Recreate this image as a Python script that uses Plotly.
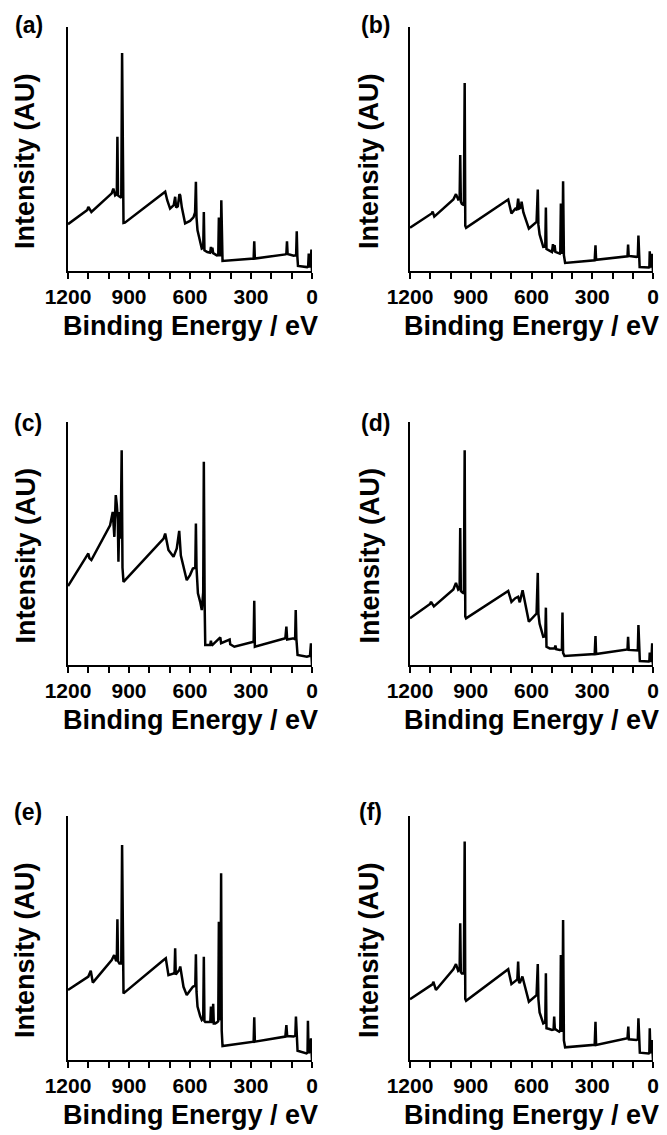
import plotly.graph_objects as go

W, H = 667, 1135

# ---- data (binding energy in eV, intensity in arbitrary units 0-100) ----
energy_a = [1200, 1105, 1100, 1085, 985, 977, 968, 960, 957, 954, 947, 938, 934, 930, 927, 920,
            730, 722, 712, 698, 680, 673, 668, 660, 652, 648, 640, 632, 624, 600, 583, 575, 571, 568, 563,
            550, 542, 535, 532, 529, 515, 501, 497, 494, 490, 486, 468, 461, 458, 455, 449, 446, 443, 440,
            287, 284, 281, 131, 126, 123, 120, 90, 78, 75, 72, 69, 24, 19, 16, 13, 6, 3, 1, 0]
intensity_a = [19.2, 25.0, 26.3, 24.2, 31.8, 33.8, 31.0, 31.5, 55.0, 31.0, 30.5, 30.0, 89.3, 20.0, 19.7, 19.8,
               31.8, 32.5, 29.0, 25.6, 27.0, 30.4, 26.0, 26.5, 31.5, 31.0, 26.0, 22.6, 19.5, 20.5, 22.0, 24.0, 36.6, 22.0, 16.7,
               12.0, 9.2, 9.5, 24.2, 8.5, 7.8, 7.5, 9.9, 7.5, 9.6, 7.3, 6.4, 6.5, 21.9, 6.5, 6.5, 29.0, 6.0, 4.1,
               5.1, 12.2, 5.1, 6.8, 7.2, 12.2, 7.0, 6.3, 6.5, 16.3, 6.0, 2.1, 1.6, 1.8, 7.1, 1.5, 3.0, 8.8, 2.0, 0.0]

energy_b = [1200, 1093, 1088, 1080, 986, 973, 962, 955, 952, 949, 944, 934, 930, 927, 923,
            723, 715, 699, 680, 672, 666, 660, 652, 649, 640, 613, 580, 575, 569, 566, 560,
            542, 532, 529, 526, 512, 499, 494, 491, 486, 482, 460, 458, 455, 452, 447, 444, 440, 434,
            288, 284, 281, 126, 123, 120, 82, 75, 72, 69, 66, 21, 18, 16, 13, 8, 4, 2, 0]
intensity_b = [17.7, 23.6, 24.3, 22.3, 29.3, 31.5, 29.3, 29.5, 47.5, 28.5, 27.5, 27.0, 77.0, 18.5, 17.7,
               29.0, 29.3, 23.6, 25.5, 25.0, 29.7, 25.6, 26.0, 28.4, 24.0, 17.4, 19.5, 20.1, 33.4, 19.0, 15.0,
               9.9, 10.0, 26.0, 9.0, 8.5, 7.8, 11.0, 8.0, 10.6, 7.8, 7.1, 7.5, 27.7, 7.5, 7.5, 36.8, 6.5, 3.3,
               4.4, 10.5, 4.6, 6.0, 10.8, 6.2, 5.8, 6.0, 14.5, 5.0, 1.6, 1.4, 1.5, 8.1, 1.5, 2.5, 7.1, 2.0, 0.0]

energy_c = [1200, 1100, 1095, 1085, 993, 980, 972, 965, 960, 955, 952, 947, 941, 936, 932, 927,
            730, 722, 706, 681, 665, 653, 645, 616, 600, 586, 574, 571, 568, 561, 550, 542, 535, 532, 528, 525,
            501, 497, 493, 455, 451, 447, 408, 405, 402, 382,
            287, 284, 281, 131, 126, 122, 90, 83, 80, 77, 71, 25, 10, 5, 2, 0]
intensity_c = [32.5, 45.9, 44.0, 43.2, 57.5, 63.0, 52.7, 69.9, 66.0, 60.0, 42.5, 63.0, 52.0, 88.4, 40.0, 34.2,
               52.0, 54.1, 47.3, 44.5, 48.0, 55.2, 45.0, 34.9, 37.0, 39.7, 40.0, 58.2, 40.0, 29.5, 26.0, 22.6, 30.0, 83.6, 25.0, 8.2,
               8.2, 10.0, 8.0, 11.0, 11.4, 9.0, 10.2, 10.5, 8.5, 7.5,
               9.6, 26.4, 7.5, 11.0, 15.8, 10.5, 11.0, 10.5, 22.6, 11.0, 4.1, 3.4, 3.8, 8.9, 3.0, 0.0]

energy_d = [1200, 1101, 1096, 1082, 986, 973, 962, 955, 952, 949, 944, 934, 930, 927, 923,
            723, 715, 699, 680, 666, 658, 644, 632, 613, 575, 569, 566, 560,
            542, 532, 529, 526, 510, 486, 482, 478, 460, 450, 447, 444, 437,
            288, 284, 281, 126, 123, 120, 82, 75, 72, 69, 65, 21, 18, 16, 13, 8, 4, 2, 0]
intensity_d = [19.2, 25.1, 26.0, 24.1, 31.1, 33.8, 31.0, 31.5, 56.4, 30.5, 30.0, 29.5, 88.4, 20.0, 19.2,
               30.1, 30.5, 26.0, 27.5, 28.1, 25.8, 30.8, 26.0, 17.8, 21.2, 37.9, 21.0, 17.0,
               11.6, 11.8, 23.6, 7.5, 6.8, 6.8, 8.0, 6.5, 6.2, 6.3, 21.6, 5.0, 3.7,
               4.5, 11.9, 4.5, 6.4, 11.6, 6.2, 5.9, 6.0, 16.4, 4.0, 1.6, 1.4, 1.5, 5.1, 1.5, 2.0, 8.9, 2.0, 0.0]

energy_e = [1200, 1100, 1088, 1078, 985, 973, 963, 960, 957, 954, 947, 938, 934, 930, 927,
            730, 719, 706, 680, 676, 673, 670, 665, 652, 648, 632, 616, 600, 586, 574, 571, 568, 563,
            550, 542, 535, 532, 529, 525, 504, 500, 497, 494, 489, 486, 483, 476, 465, 461, 458, 455, 450, 447, 444, 440,
            287, 284, 281, 131, 126, 122, 90, 82, 79, 76, 71, 27, 22, 20, 17, 10, 5, 2, 0]
intensity_e = [28.7, 34.2, 36.6, 31.7, 41.0, 43.0, 40.5, 41.0, 57.7, 40.5, 39.5, 39.5, 88.1, 29.0, 27.3,
               41.0, 41.7, 34.8, 35.5, 36.0, 45.8, 35.0, 35.5, 37.0, 38.3, 30.0, 26.6, 28.5, 30.0, 30.5, 43.3, 28.0, 21.9,
               18.0, 16.4, 17.0, 42.3, 16.0, 15.6, 15.6, 15.8, 21.9, 15.6, 15.6, 23.0, 15.0, 15.0, 15.6, 16.0, 56.7, 16.5, 17.0, 76.5, 12.0, 5.7,
               7.5, 17.5, 7.5, 9.6, 14.3, 9.8, 9.6, 10.0, 17.8, 10.0, 3.8, 2.7, 3.0, 16.1, 3.0, 3.4, 8.9, 3.0, 0.0]

energy_f = [1200, 1088, 1085, 1072, 986, 973, 962, 955, 952, 949, 944, 934, 930, 927, 923,
            723, 715, 699, 680, 670, 666, 662, 658, 645, 632, 613, 575, 569, 566, 560,
            542, 532, 529, 526, 512, 499, 491, 488, 485, 480, 463, 458, 455, 452, 447, 444, 440, 434,
            288, 284, 281, 126, 122, 119, 82, 75, 72, 69, 65, 21, 18, 16, 13, 8, 4, 2, 0]
intensity_f = [24.9, 31.1, 32.1, 28.7, 37.2, 39.3, 36.5, 37.0, 56.0, 36.0, 35.5, 35.5, 89.5, 25.0, 24.3,
               36.9, 37.2, 31.1, 32.5, 33.0, 40.3, 32.0, 31.5, 34.2, 30.0, 23.9, 26.6, 39.3, 25.0, 19.5,
               15.0, 15.5, 35.5, 13.0, 12.7, 12.3, 12.5, 17.8, 13.0, 12.5, 11.6, 12.0, 43.0, 12.0, 12.0, 57.4, 8.0, 5.2,
               6.2, 15.7, 6.2, 8.9, 13.7, 8.5, 8.2, 8.5, 17.1, 6.0, 3.0, 2.7, 2.9, 13.0, 3.0, 3.5, 8.2, 3.0, 0.0]

panel_labels = ["(a)", "(b)", "(c)", "(d)", "(e)", "(f)"]
tick_values = [1200, 900, 600, 300, 0]
tick_labels = ["1200", "900", "600", "300", "0"]
x_title = "Binding Energy / eV"
y_title = "Intensity (AU)"

series = [(energy_a, intensity_a), (energy_b, intensity_b), (energy_c, intensity_c),
          (energy_d, intensity_d), (energy_e, intensity_e), (energy_f, intensity_f)]

# ---- layout geometry (pixels) ----
cols = [(68, 312), (410, 653)]
rows = [(27, 271), (422, 665), (816, 1060)]
label_pos = [(29, 25), (375, 25), (28, 423), (375, 423), (28, 812), (370, 812)]
ytitle_x = [25, 369]
ytitle_dy = 12
xtitle_dy = 55

FONT = "Liberation Sans, Arial, sans-serif"

def px_x(p):
    return p / W

def px_y(p):
    return 1 - p / H

fig = go.Figure()
layout = dict(width=W, height=H, margin=dict(l=0, r=0, t=0, b=0, autoexpand=False),
              paper_bgcolor="white", plot_bgcolor="white", showlegend=False, template="none")
annotations = []

for i, (e, v) in enumerate(series):
    r, c = divmod(i, 2)
    n = "" if i == 0 else str(i + 1)
    fig.add_trace(go.Scatter(x=e, y=v, mode="lines", xaxis="x" + n, yaxis="y" + n,
                             line=dict(color="black", width=2.5), hoverinfo="skip"))
    x0, x1 = cols[c]
    y0, y1 = rows[r]
    layout["xaxis" + n] = dict(
        domain=[px_x(x0), px_x(x1)], anchor="y" + n, range=[1200, 0], automargin=False,
        showline=True, linecolor="black", linewidth=2, mirror=False,
        ticks="outside", ticklen=6, tickwidth=2, tickcolor="black",
        tickvals=tick_values, ticktext=tick_labels,
        tickfont=dict(family=FONT, size=21, color="black", weight="bold"),
        minor=dict(dtick=100, tick0=0, ticks="outside", ticklen=6, tickwidth=2, tickcolor="black", showgrid=False),
        showgrid=False, zeroline=False, fixedrange=True)
    layout["yaxis" + n] = dict(
        domain=[px_y(y1), px_y(y0)], anchor="x" + n, range=[0, 100], automargin=False,
        showline=True, linecolor="black", linewidth=2,
        ticks="", showticklabels=False, showgrid=False, zeroline=False, fixedrange=True)
    lx, ly = label_pos[i]
    annotations.append(dict(text=panel_labels[i], x=px_x(lx), y=px_y(ly), xref="paper", yref="paper",
                            showarrow=False, xanchor="center", yanchor="middle",
                            font=dict(family=FONT, size=23, color="black", weight="bold")))
    annotations.append(dict(text=x_title, x=px_x((x0 + x1) / 2), y=px_y(y1 + xtitle_dy),
                            xref="paper", yref="paper", showarrow=False,
                            xanchor="center", yanchor="middle",
                            font=dict(family=FONT, size=27, color="black", weight="bold")))
    annotations.append(dict(text=y_title, x=px_x(ytitle_x[c]), y=px_y((y0 + y1) / 2 + ytitle_dy),
                            xref="paper", yref="paper", showarrow=False, textangle=-90,
                            xanchor="center", yanchor="middle",
                            font=dict(family=FONT, size=27, color="black", weight="bold")))

layout["annotations"] = annotations
fig.update_layout(**layout)
fig.write_html("out.html", post_script="document.body.style.margin='0';")
